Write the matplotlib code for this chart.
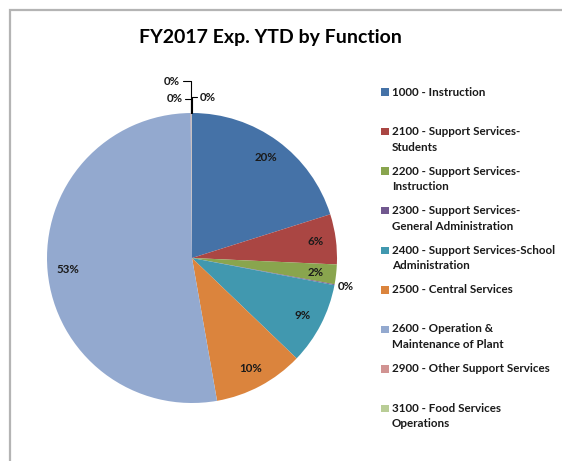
import matplotlib
import matplotlib.pyplot as plt
from matplotlib.patches import Rectangle
import numpy as np

matplotlib.use("Agg")

# data
categories = [
    "1000 - Instruction",
    "2100 - Support Services-\nStudents",
    "2200 - Support Services-\nInstruction",
    "2300 - Support Services-\nGeneral Administration",
    "2400 - Support Services-School\nAdministration",
    "2500 - Central Services",
    "2600 - Operation &\nMaintenance of Plant",
    "2900 - Other Support Services",
    "3100 - Food Services\nOperations",
    "Other",
]
shares = [20.2, 5.6, 2.2, 0.1, 9.2, 10.1, 52.8, 0.05, 0.05, 0.05]
colors = ["#4572A7", "#AA4643", "#89A54E", "#71588F", "#4198AF",
          "#DB843D", "#93A9CF", "#D19392", "#B9CD96", "#A99BBD"]
legend_count = 9  # the last slice is cut off from the legend

plt.rcParams["font.family"] = ["Lato", "DejaVu Sans"]

fig = plt.figure(figsize=(5.62, 4.61), dpi=100)
W, H = 562, 461

# chart frame (left and top edges visible)
fig.patches.append(Rectangle((10 / W, -0.1), 1.2, 1 - 10 / H + 0.1,
                             transform=fig.transFigure, fill=False,
                             edgecolor="#b4b4b4", linewidth=1.6))

fig.text(270 / W, 1 - 37 / H, "FY2017 Exp. YTD by Function",
         ha="center", va="center", fontsize=14, fontweight="bold")

ax = fig.add_axes([47 / W, 58 / H, 290 / W, 290 / H])
wedges, _, autotexts = ax.pie(
    shares, colors=colors, startangle=90, counterclock=False,
    autopct="%1.0f%%", pctdistance=0.86,
    wedgeprops=dict(linewidth=0),
    textprops=dict(fontsize=8.3, fontweight="bold", color="#1a1a1a"))
ax.set_xlim(-1, 1)
ax.set_ylim(-1, 1)
ax.set_aspect("equal")

# small slices: outside labels
autotexts[3].set_position(np.array(autotexts[3].get_position()) / 0.86 * 1.08)
top_offsets = {7: (-0.14, 1.22), 8: (-0.12, 1.10), 9: (0.11, 1.11)}
for i, (tx, ty) in top_offsets.items():
    w = wedges[i]
    ang = np.deg2rad((w.theta1 + w.theta2) / 2)
    autotexts[i].set_visible(False)
    ax.annotate(autotexts[i].get_text(), xy=(np.cos(ang), np.sin(ang)),
                xytext=(tx, ty), ha="center", va="center",
                fontsize=8.3, fontweight="bold", color="#1a1a1a",
                annotation_clip=False,
                arrowprops=dict(arrowstyle="-", color="black", lw=0.8,
                                shrinkA=0, shrinkB=0,
                                connectionstyle="angle,angleA=0,angleB=90,rad=0"))

# legend
for i in range(legend_count):
    y = 1 - (92 + i * 39.5) / H
    fig.patches.append(Rectangle((381 / W, y - 4 / H), 7.5 / W, 7.5 / H,
                                 transform=fig.transFigure,
                                 facecolor=colors[i], edgecolor="none"))
    fig.text(392 / W, y + 5.5 / H, categories[i], ha="left", va="top",
             fontsize=8.4, fontweight="bold", color="#1a1a1a", linespacing=1.55)

plt.savefig("out.png", dpi=100)
plt.close()
